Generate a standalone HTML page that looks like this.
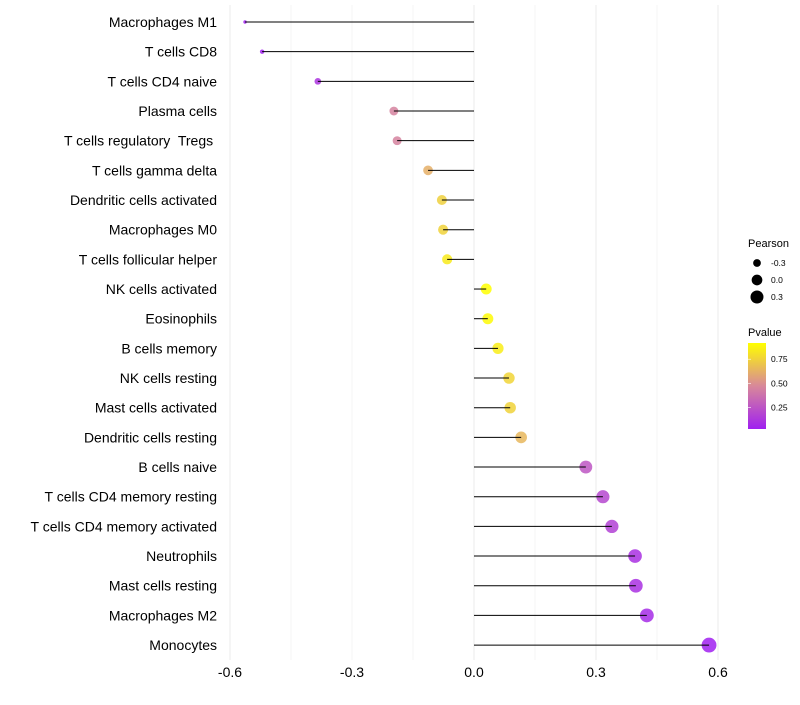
<!DOCTYPE html>
<html><head><meta charset="utf-8"><style>
body{margin:0;background:#fff;font-family:"Liberation Sans",sans-serif}
</style></head><body>
<svg id="chart" width="800" height="700" xmlns="http://www.w3.org/2000/svg" font-family="Liberation Sans, sans-serif">
<defs><linearGradient id="pg" x1="0" y1="1" x2="0" y2="0">
<stop offset="0" stop-color="#a020f0"/><stop offset="0.5" stop-color="#d8889a"/><stop offset="1" stop-color="#ffff00"/></linearGradient></defs>
<g id="grid"></g>
<g id="pts"></g>
<g id="marks"></g>
<g id="ylab"></g>
<g id="xlab"></g>
<g>
<text x="748" y="247" font-size="11">Pearson</text>
<g id="sizeleg"></g>
</g>
<g>
<text x="748" y="336" font-size="11">Pvalue</text>
<rect x="748" y="343" width="18" height="86" fill="url(#pg)"/>
<g id="colleg"></g>
</g>
</svg>
<script>
const categories=["Macrophages M1","T cells CD8","T cells CD4 naive","Plasma cells","T cells regulatory  Tregs ","T cells gamma delta","Dendritic cells activated","Macrophages M0","T cells follicular helper","NK cells activated","Eosinophils","B cells memory","NK cells resting","Mast cells activated","Dendritic cells resting","B cells naive","T cells CD4 memory resting","T cells CD4 memory activated","Neutrophils","Mast cells resting","Macrophages M2","Monocytes"];
const pearson=[-0.563,-0.521,-0.384,-0.197,-0.189,-0.113,-0.079,-0.076,-0.066,0.030,0.034,0.059,0.086,0.089,0.116,0.275,0.317,0.339,0.396,0.398,0.425,0.578];
const pvalues=[0.03,0.04,0.12,0.45,0.45,0.62,0.74,0.75,0.84,0.92,0.9,0.85,0.76,0.75,0.65,0.26,0.2,0.17,0.1,0.1,0.08,0.03];
const xTicks=[-0.6,-0.3,0.0,0.3,0.6];
const xTickLabels=["-0.6","-0.3","0.0","0.3","0.6"];
const sizeLegendVals=[-0.3,0.0,0.3];
const colorLegendVals=[0.25,0.5,0.75];
const NS="http://www.w3.org/2000/svg";
const x=v=>474+v*406.67;
const y=i=>22+i*29.67;
const pmin=0.03,pmax=0.917;
const py=p=>429-(p-pmin)/(pmax-pmin)*86;
const smin=Math.min(...pearson),smax=Math.max(...pearson);
const r=v=>Math.sqrt(3+Math.max(0,(v-smin)/(smax-smin))*52);
function lerp(a,b,t){return a.map((c,i)=>Math.round(c+(b[i]-c)*t));}
function col(p){let t=Math.max(0,Math.min(1,(p-pmin)/(pmax-pmin)));
const s=[[160,32,240],[216,136,154],[255,255,0]];
const c=t<0.5?lerp(s[0],s[1],t*2):lerp(s[1],s[2],(t-0.5)*2);return `rgb(${c})`;}
function mk(tag,at,parent){const e=document.createElementNS(NS,tag);for(const k in at)e.setAttribute(k,at[k]);parent.appendChild(e);return e;}
const grid=document.getElementById('grid'),marks=document.getElementById('marks'),pts=document.getElementById('pts'),ylab=document.getElementById('ylab'),xlab=document.getElementById('xlab');
for(let v=-0.6;v<=0.601;v+=0.15){const l=mk('line',{x1:x(v),x2:x(v),y1:5,y2:660,stroke:Math.abs((v*100)%30)<1?'#ebebeb':'#f4f4f4','stroke-width':1},grid);

}
categories.forEach((c,i)=>{
const ci=mk('circle',{cx:x(pearson[i]),cy:y(i),r:r(pearson[i]),fill:col(pvalues[i]),'fill-opacity':0.85},pts);


const ln=mk('line',{x1:x(0),x2:x(pearson[i]),y1:y(i),y2:y(i),stroke:'#000','stroke-width':1},marks);


const t=mk('text',{x:217,y:y(i)+5,'text-anchor':'end','font-size':14,fill:'#000','xml:space':'preserve',style:'white-space:pre'},ylab);t.textContent=c;


});
xTicks.forEach((v,i)=>{const t=mk('text',{x:x(v),y:677,'text-anchor':'middle','font-size':14,fill:'#000'},xlab);t.textContent=xTickLabels[i];

});
const sl=document.getElementById('sizeleg');
sizeLegendVals.forEach((v,i)=>{const cy=263+i*17;
const c=mk('circle',{cx:757,cy:cy,r:r(v),fill:'#000'},sl);


const t=mk('text',{x:771,y:cy+3,'font-size':8.5},sl);t.textContent=v.toFixed(1);

});
const cl=document.getElementById('colleg');
colorLegendVals.forEach(v=>{const t=mk('text',{x:771,y:py(v)+3,'font-size':8.5},cl);t.textContent=v.toFixed(2);


const l=mk('line',{x1:748,x2:751,y1:py(v),y2:py(v),stroke:'#fff','stroke-width':0.6},cl);

});
</script>
</body></html>
